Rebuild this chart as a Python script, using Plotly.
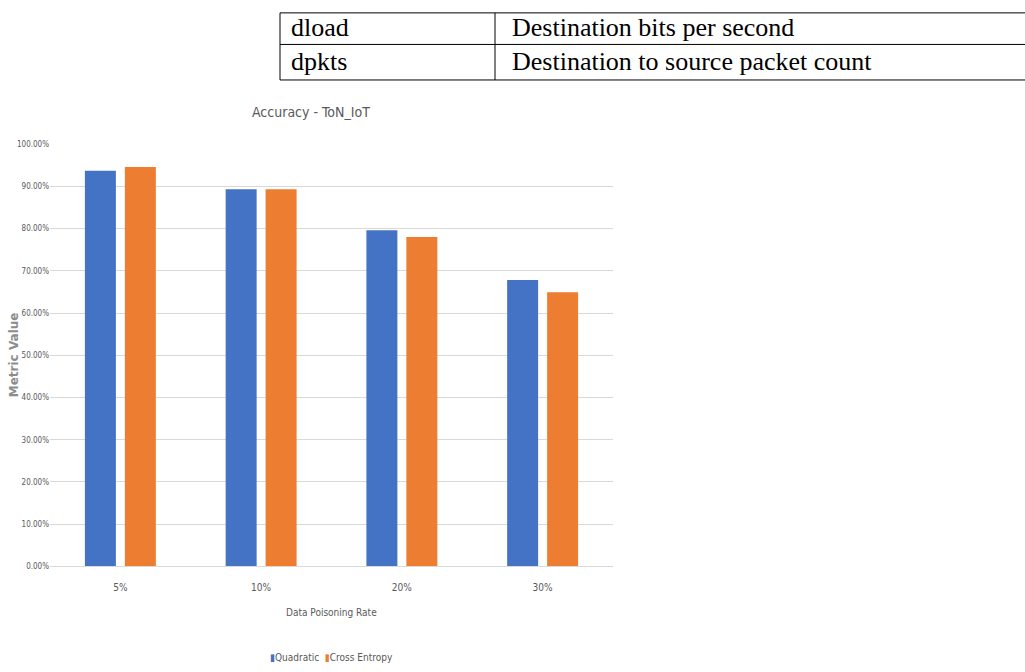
import plotly.graph_objects as go

# ---- data ----
categories = ["5%", "10%", "20%", "30%"]
quadratic = [93.7, 89.3, 79.6, 67.8]
cross_entropy = [94.6, 89.3, 78.0, 64.9]
series_names = ["Quadratic", "Cross Entropy"]
table_keys = ["dload", "dpkts"]
table_desc = ["Destination bits per second", "Destination to source packet count"]

W, H = 1025, 672
BLUE = "#4472c4"
ORANGE = "#ed7d31"
GRAY = "#595959"
NARROW = "DejaVu Sans Condensed, Liberation Sans Narrow, sans-serif"
SERIF = "Liberation Serif, Times New Roman, serif"

def px(x):
    return x / W

def py(y):
    return 1 - y / H

def nfont(size, color=GRAY):
    return dict(family=NARROW, size=size, color=color)

fig = go.Figure()
fig.add_trace(go.Bar(x=categories, y=quadratic, name=series_names[0],
                     marker=dict(color=BLUE, line=dict(width=0))))
fig.add_trace(go.Bar(x=categories, y=cross_entropy, name=series_names[1],
                     marker=dict(color=ORANGE, line=dict(width=0))))

fig.update_layout(
    width=W, height=H,
    margin=dict(l=0, r=0, t=0, b=0),
    paper_bgcolor="white", plot_bgcolor="white",
    barmode="group", bargap=0.432, bargroupgap=0.225,
    showlegend=False,
    xaxis=dict(domain=[px(50), px(613)], showgrid=False, showline=True,
               linecolor="#d9d9d9", linewidth=1, ticks="",
               tickfont=nfont(10),
               ticklabelstandoff=12),
    yaxis=dict(domain=[py(570), py(142)], range=[0, 100], dtick=10,
               tickformat=".2f", ticksuffix="%", showgrid=True,
               gridcolor="#d9d9d9", gridwidth=1, zeroline=False,
               showline=False, ticks="",
               tickfont=nfont(8)),
)

annotations = [
    dict(text="Accuracy - ToN_IoT", x=px(311), y=py(109), xref="paper", yref="paper",
         showarrow=False, xanchor="center", yanchor="middle",
         font=nfont(14)),
    dict(text="Data Poisoning Rate", x=px(331), y=py(617), xref="paper", yref="paper",
         showarrow=False, xanchor="center", yanchor="middle",
         font=nfont(10)),
    dict(text="<b>Metric Value</b>", x=px(14), y=py(356), xref="paper", yref="paper",
         showarrow=False, xanchor="center", yanchor="middle", textangle=-90,
         font=dict(family="DejaVu Sans, Verdana, sans-serif", size=12, color="#8c8c8c")),
    dict(text=f"<span style='color:{BLUE}'>▮</span>{series_names[0]}  "
              f"<span style='color:{ORANGE}'>▮</span>{series_names[1]}",
         x=px(331), y=py(662), xref="paper", yref="paper",
         showarrow=False, xanchor="center", yanchor="middle",
         font=nfont(10)),
]

# table rows
row_centers = [24, 58]
for key, desc, yc in zip(table_keys, table_desc, row_centers):
    annotations.append(dict(text=key, x=px(289), y=py(yc), xref="paper", yref="paper",
                            showarrow=False, xanchor="left", yanchor="middle",
                            font=dict(family=SERIF, size=26, color="black")))
    annotations.append(dict(text=desc, x=px(510), y=py(yc), xref="paper", yref="paper",
                            showarrow=False, xanchor="left", yanchor="middle",
                            font=dict(family=SERIF, size=26, color="black")))
fig.update_layout(annotations=annotations)

shapes = []
for yl in [9, 41, 77]:
    shapes.append(dict(type="line", xref="paper", yref="paper",
                       x0=px(280), x1=px(1030), y0=py(yl), y1=py(yl),
                       line=dict(color="black", width=1)))
for xl in [280, 495]:
    shapes.append(dict(type="line", xref="paper", yref="paper",
                       x0=px(xl), x1=px(xl), y0=py(9), y1=py(77),
                       line=dict(color="black", width=1)))
fig.update_layout(shapes=shapes)

fig.write_html("out.html")
